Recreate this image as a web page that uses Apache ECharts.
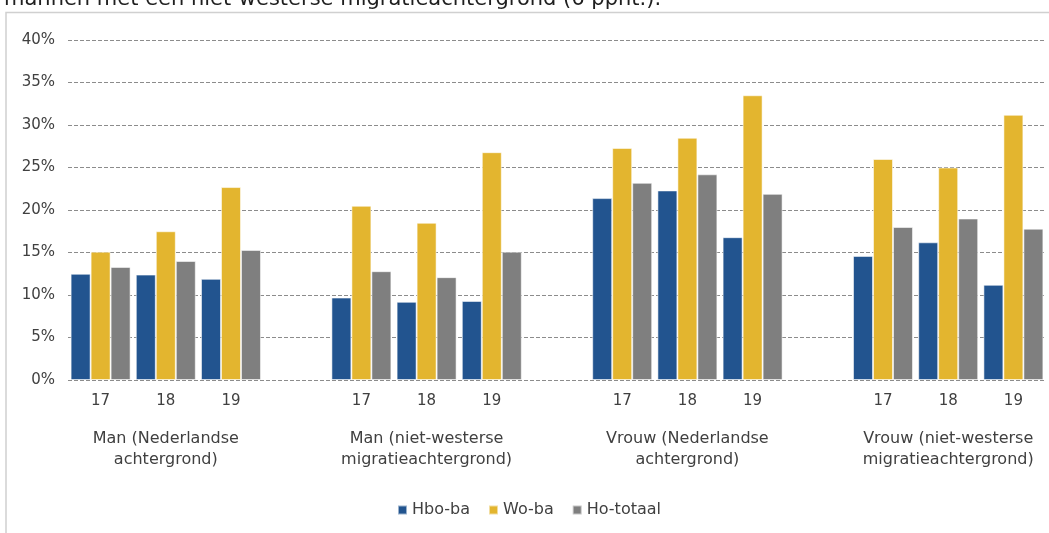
<!DOCTYPE html>
<html>
<head>
<meta charset="utf-8">
<script src="https://cdn.jsdelivr.net/npm/echarts@6/dist/echarts.min.js"></script>
<style>
html,body{margin:0;padding:0;background:#fff;}
#c{width:1049px;height:533px;}
</style>
</head>
<body>
<div id="c"></div>
<script>
// ---- data ----
const years = ['17', '18', '19'];
const groups = [
  'Man (Nederlandse\nachtergrond)',
  'Man (niet-westerse\nmigratieachtergrond)',
  'Vrouw (Nederlandse\nachtergrond)',
  'Vrouw (niet-westerse\nmigratieachtergrond)'
];
const seriesNames = ['Hbo-ba', 'Wo-ba', 'Ho-totaal'];
// values per group, per year (percent)
const hboBa    = [[12.5, 12.4, 11.9], [9.7, 9.2, 9.3], [21.4, 22.3, 16.8], [14.6, 16.2, 11.2]];
const woBa     = [[15.1, 17.5, 22.7], [20.5, 18.5, 26.8], [27.3, 28.5, 33.5], [26.0, 25.0, 31.2]];
const hoTotaal = [[13.3, 14.0, 15.3], [12.8, 12.1, 15.1], [23.2, 24.2, 21.9], [18.0, 19.0, 17.8]];
const yTicks = { min: 0, max: 40, interval: 5 };
const titleText = 'mannen met een niet-westerse migratieachtergrond (6 ppnt.).';

// ---- build category axis with a blank slot between groups ----
const cats = [], groupCats = [];
groups.forEach((g, gi) => {
  if (gi > 0) { cats.push(''); groupCats.push(''); }
  years.forEach((y, yi) => { cats.push(y); groupCats.push(yi === 1 ? g : ''); });
});
function flat(arr) {
  const out = [];
  arr.forEach((grp, gi) => { if (gi > 0) out.push(null); grp.forEach(v => out.push(v)); });
  return out;
}
const colors = ['#22548f', '#e3b52f', '#7f7f7f'];
const allVals = [hboBa, woBa, hoTotaal];

const FONT = 'DejaVu Sans';
const chart = echarts.init(document.getElementById('c'), null, { renderer: 'canvas' });
chart.setOption({
  animation: false,
  color: colors,
  textStyle: { fontFamily: FONT },
  grid: { left: 68, right: 3, top: 40, bottom: 153, containLabel: false },
  legend: {
    left: 392, top: 497,
    itemWidth: 9, itemHeight: 9, itemGap: 18,
    icon: 'rect',
    textStyle: { fontFamily: FONT, fontSize: 16, color: '#404040' },
    data: seriesNames
  },
  xAxis: [
    {
      type: 'category', data: cats, position: 'bottom',
      axisLine: { show: false }, axisTick: { show: false },
      axisLabel: { interval: 0, margin: 14, fontFamily: FONT, fontSize: 15, color: '#404040' }
    },
    {
      type: 'category', data: groupCats, position: 'bottom',
      axisLine: { show: false }, axisTick: { show: false },
      axisLabel: { interval: 0, margin: 48, lineHeight: 21, fontFamily: FONT, fontSize: 16, color: '#404040' }
    }
  ],
  yAxis: {
    type: 'value', min: yTicks.min, max: yTicks.max, interval: yTicks.interval,
    axisLine: { show: false }, axisTick: { show: false },
    axisLabel: { formatter: '{value}%', margin: 13, fontFamily: FONT, fontSize: 15, color: '#404040' },
    splitLine: { show: true, lineStyle: { color: '#8c8c8c', type: [4, 2], width: 1 } }
  },
  series: seriesNames.map((n, i) => ({
    name: n, type: 'bar', xAxisIndex: 0,
    data: flat(allVals[i]),
    barGap: '0%', barCategoryGap: '8%',
    itemStyle: { color: colors[i], borderColor: 'rgba(255,255,255,0.55)', borderWidth: 1 }
  })),
  graphic: [
    {
      type: 'polyline', silent: true,
      shape: { points: [[6, 533], [6, 12.5], [1049, 12.5]] },
      style: { stroke: '#d0d0d0', lineWidth: 1.5, fill: null }
    },
    {
      type: 'text', silent: true, x: 4, y: 10,
      style: { text: titleText, font: '21px "DejaVu Sans"', fill: '#1f1f1f', textVerticalAlign: 'bottom' }
    }
  ]
});
</script>
</body>
</html>
